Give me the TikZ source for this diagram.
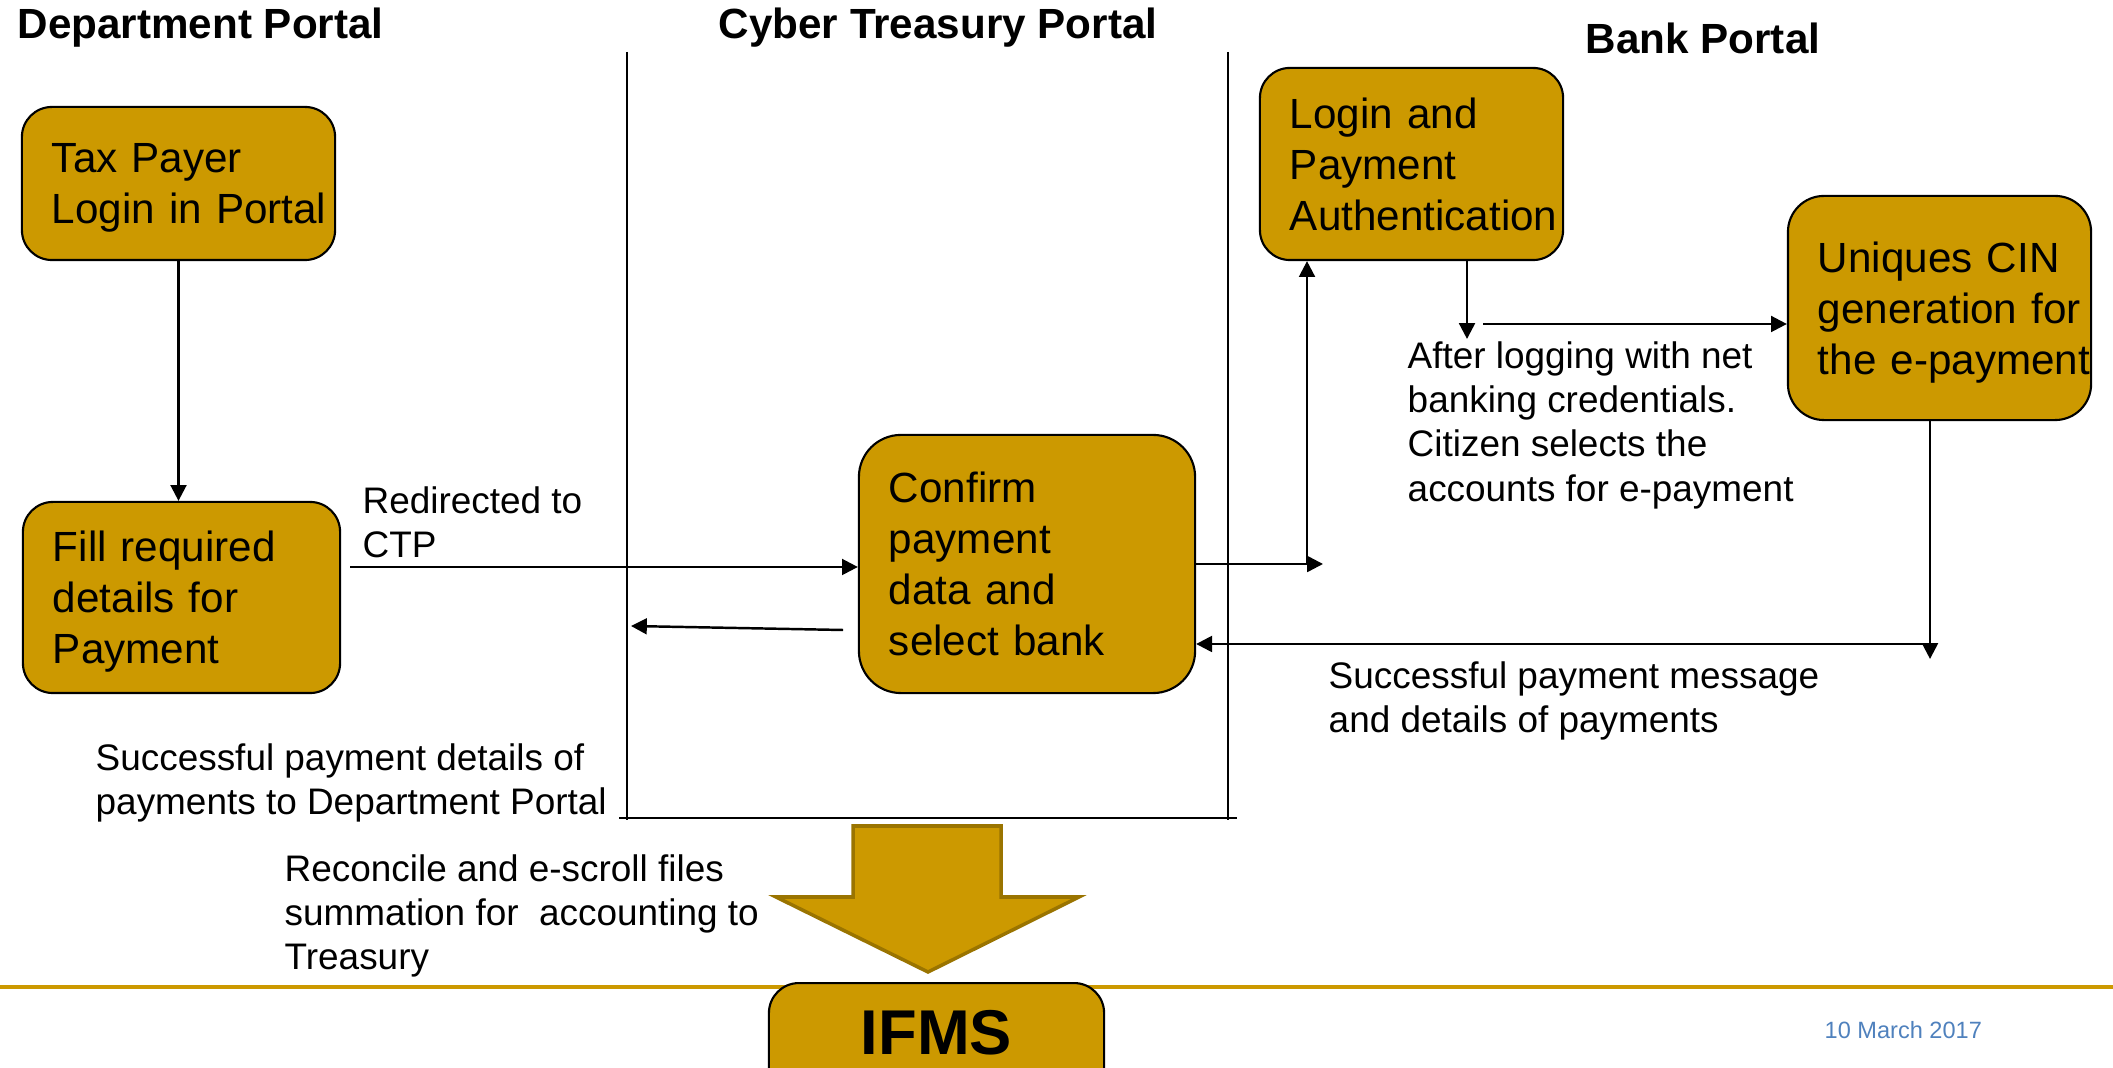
\documentclass[tikz,border=0pt]{standalone}
\usepackage{fontspec}
\setmainfont{Liberation Sans}
\usepackage{xcolor}
\usetikzlibrary{positioning,arrows.meta}
\definecolor{ctpgold}{HTML}{CC9900}
\definecolor{arrowedge}{HTML}{9A7400}
\definecolor{datablue}{HTML}{4F81BD}
\tikzset{
    stepbox/.style={draw, line width=0.6pt, fill=ctpgold, rounded corners=0.3cm, inner xsep=0.3cm, inner ysep=0pt, align=left, font=\fontsize{12}{14.5}\selectfont},
    note/.style={anchor=west, inner sep=0pt, align=left, font=\fontsize{10.5}{12.6}\selectfont},
    lanehead/.style={anchor=base west, inner sep=0pt, font=\bfseries\fontsize{12}{14}\selectfont},
    flow/.style={-{Triangle[length=4.5pt, width=4.5pt]}, line width=0.7pt},
    lane/.style={line width=0.5pt}
}

\begin{document}
\begin{tikzpicture}[x=0.01cm, y=-0.01cm]
    \useasboundingbox (0,0) rectangle (2113,1068);

    % Portal headings
    \node[lanehead] (hdept) at (17,39) {Department Portal};
    \node[lanehead] (hctp) at (718,39) {Cyber Treasury Portal};
    \node[lanehead] (hbank) at (1585,54) {Bank Portal};

    % Lanes
    \draw[lane] (627,52) -- (627,820);
    \draw[lane] (1228,52) -- (1228,820);
    \draw[line width=0.8pt] (619,818) -- (1237,818);

    % Steps
    \node[stepbox, text width=2.53cm, minimum height=1.53cm, text depth=14.5pt] (tax) at (178.5,183.5) {Tax Payer\\\mbox{Login in Portal}};
    \node[stepbox, text width=2.57cm, minimum height=1.91cm, text depth=29pt] (fill) at (181.5,597.5) {Fill required\\details for\\Payment};
    \node[stepbox, text width=2.76cm, minimum height=2.58cm, text depth=43.5pt, rounded corners=0.42cm] (confirm) at (1027,564) {Confirm\\payment\\data and\\select bank};
    \node[stepbox, text width=2.43cm, minimum height=1.92cm, text depth=29pt] (login) at (1411.5,164) {Login and\\Payment\\\mbox{Authentication}};
    \node[stepbox, text width=2.43cm, minimum height=2.24cm, text depth=29pt, rounded corners=0.36cm] (cin) at (1939.5,308) {\mbox{Uniques CIN}\\\mbox{generation for}\\\mbox{the e-payment}};

    % Free ends of the connectors
    \coordinate (redir) at (350,567);
    \coordinate (backstart) at (843,630);
    \coordinate (backend) at (631,626);
    \coordinate (bankin) at (1323,564);
    \coordinate (upfoot) at (1307,564);
    \coordinate (logdown) at (1467,339);
    \coordinate (cinfrom) at (1483,324);
    \coordinate (cindown) at (1930,659);
    \coordinate (retfrom) at (1930,644);

    % Connectors
    \draw[flow] (tax.south) -- (tax.south |- fill.north);
    \draw[flow] (redir) -- (redir -| confirm.west);
    \draw[flow] (backstart) -- (backend);
    \draw[flow] (confirm.east |- bankin) -- (bankin);
    \draw[flow] (upfoot) -- (upfoot |- login.south);
    \draw[flow] (logdown |- login.south) -- (logdown);
    \draw[flow] (cinfrom) -- (cinfrom -| cin.west);
    \draw[flow] (cindown |- cin.south) -- (cindown);
    \draw[flow] (retfrom) -- (retfrom -| confirm.east);

    % Notes
    \node[note] (nredir) at (362,522) {Redirected to\\CTP};
    \node[note] (nlogged) at (1407,425) {After logging with net\\banking credentials.\\Citizen selects the\\accounts for e-payment};
    \node[note] (nmsg) at (1328,701) {Successful payment message\\and details of payments};
    \node[note] (ndept) at (95,783) {Successful payment details of\\payments to Department Portal};
    \node[note] (nrecon) at (284,916) {Reconcile and e-scroll files\\summation for~ accounting to\\Treasury};

    % Footer line and IFMS
    \draw[ctpgold, line width=1pt] (0,987) -- (2113,987);
    \draw[fill=ctpgold, draw=arrowedge, line width=1pt] (853,826) -- (1001,826) -- (1001,897) -- (1079,897) -- (928,972) -- (776,897) -- (853,897) -- cycle;
    \node[stepbox, anchor=north, minimum width=3.35cm, align=center, inner ysep=0pt, text height=0.71cm, text depth=0.8cm, font=\bfseries\fontsize{18}{20}\selectfont] (ifms) at (936.5,982) {IFMS};
    \node[anchor=base west, inner sep=0pt, text=datablue, font=\fontsize{6.7}{8}\selectfont] (date) at (1824,1038) {10 March 2017};
\end{tikzpicture}
\end{document}
